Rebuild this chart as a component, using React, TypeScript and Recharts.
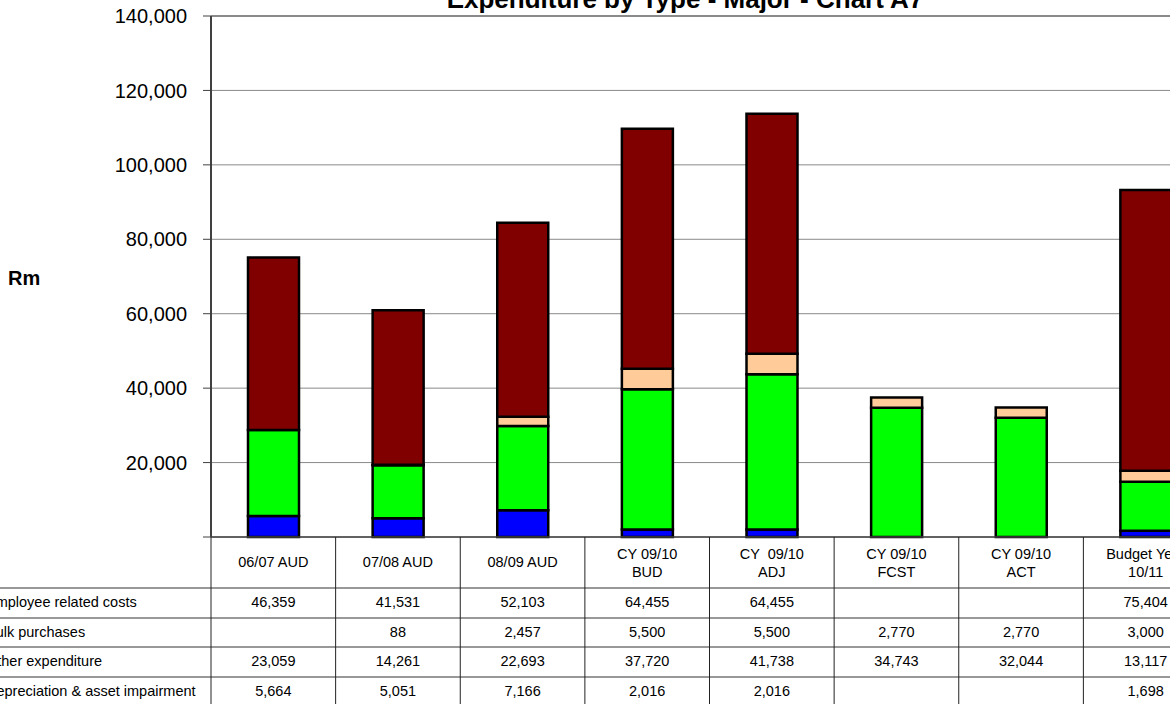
import React from "react";
import {
  BarChart,
  Bar,
  XAxis,
  YAxis,
  CartesianGrid,
  ReferenceLine,
} from "recharts";

// categories along the bottom (multi-line headers use \n)
const periods = [
  "06/07 AUD",
  "07/08 AUD",
  "08/09 AUD",
  "CY 09/10\nBUD",
  "CY  09/10\nADJ",
  "CY 09/10\nFCST",
  "CY 09/10\nACT",
  "Budget Year\n10/11",
];

// series values in R million, null = blank cell
const employeeCosts = [46359, 41531, 52103, 64455, 64455, null, null, 75404];
const bulkPurchases = [null, 88, 2457, 5500, 5500, 2770, 2770, 3000];
const otherExpenditure = [23059, 14261, 22693, 37720, 41738, 34743, 32044, 13117];
const depreciation = [5664, 5051, 7166, 2016, 2016, null, null, 1698];

const yTicks = [0, 20000, 40000, 60000, 80000, 100000, 120000, 140000];

const FONT = "Arial, 'Liberation Sans', sans-serif";

// table rows, top to bottom
const tableRows = [
  { name: "Employee related costs", values: employeeCosts },
  { name: "Bulk purchases", values: bulkPurchases },
  { name: "Other expenditure", values: otherExpenditure },
  { name: "Depreciation & asset impairment", values: depreciation },
];

const chartData = periods.map((p, i) => ({
  period: p,
  employee: employeeCosts[i] ?? 0,
  bulk: bulkPurchases[i] ?? 0,
  other: otherExpenditure[i] ?? 0,
  dep: depreciation[i] ?? 0,
}));

const CHART_W = 1270;
const CHART_H = 737;
const MARGIN = { top: 46, right: 22, left: 181, bottom: 0 };
const Y_AXIS_W = 70;
const PLOT_W = CHART_W - MARGIN.left - Y_AXIS_W - MARGIN.right;
const BAND = PLOT_W / periods.length;
const TABLE_H = 170;

const fmt = (v: number | null) => (v == null ? "" : v.toLocaleString("en-US"));

// draws one column of the data table under each category
function TableTick(props: any) {
  const { x, y, index } = props;
  const left = x - BAND / 2;
  const right = x + BAND / 2;
  const header = periods[index].split("\n");
  const rowLines = [51, 81, 110, 140, 169];

  return (
    <g fontFamily={FONT} fontSize={14.5} fill="#000">
      {index === 0 && (
        <g>
          {rowLines.map((ry) => (
            <line key={ry} x1={0} x2={CHART_W} y1={y + ry} y2={y + ry} stroke="#333" strokeWidth={1} />
          ))}
          {tableRows.map((r, ri) => (
            <text key={r.name} x={left - 225} y={y + 70 + ri * 29.5} textAnchor="start">
              {r.name}
            </text>
          ))}
        </g>
      )}
      <line x1={left} x2={left} y1={y} y2={y + TABLE_H} stroke="#222" strokeWidth={1} />
      {index === periods.length - 1 && (
        <line x1={right} x2={right} y1={y} y2={y + TABLE_H} stroke="#222" strokeWidth={1} />
      )}
      {header.map((h, hi) => (
        <text
          key={hi}
          x={x}
          y={y + (header.length === 1 ? 30 : 22 + hi * 17.5)}
          textAnchor="middle"
          style={{ whiteSpace: "pre" }}
        >
          {h}
        </text>
      ))}
      {tableRows.map((r, ri) => (
        <text key={r.name} x={x} y={y + 70 + ri * 29.5} textAnchor="middle">
          {fmt(r.values[index])}
        </text>
      ))}
    </g>
  );
}

export default function App() {
  return (
    <div
      style={{
        position: "fixed",
        left: 0,
        top: 0,
        width: 1170,
        height: 704,
        overflow: "hidden",
        background: "#fff",
      }}
    >
      <svg
        width={1170}
        height={60}
        style={{ position: "absolute", left: 0, top: 0, zIndex: 2 }}
      >
        <text x={685} y={8} textAnchor="middle" fontFamily={FONT} fontSize={26} fontWeight="bold">
          Expenditure by Type - Major - Chart A7
        </text>
      </svg>
      <div style={{ position: "absolute", left: -40, top: -30 }}>
        <BarChart width={CHART_W} height={CHART_H} data={chartData} margin={MARGIN}>
          <CartesianGrid horizontal vertical={false} stroke="#8a8a8a" />
          <ReferenceLine y={140000} stroke="#8a8a8a" strokeWidth={2} />
          <XAxis
            dataKey="period"
            height={TABLE_H}
            interval={0}
            tickLine={false}
            tickSize={0}
            tickMargin={0}
            axisLine={{ stroke: "#404040", strokeWidth: 1.5 }}
            tick={<TableTick />}
          />
          <YAxis
            width={Y_AXIS_W}
            domain={[0, 140000]}
            ticks={yTicks}
            interval={0}
            tickSize={8}
            tickMargin={16}
            tickLine={{ stroke: "#404040" }}
            axisLine={{ stroke: "#404040", strokeWidth: 2 }}
            tick={{ fontSize: 20, fill: "#000", fontFamily: FONT }}
            tickFormatter={(v: number) => (v === 0 ? "" : v.toLocaleString("en-US"))}
            label={({ viewBox }: any) => (
              <text
                x={viewBox.x - 133}
                y={viewBox.y + viewBox.height / 2 + 1}
                dy="0.35em"
                fontFamily={FONT}
                fontSize={20}
                fontWeight="bold"
                fill="#000"
              >
                Rm
              </text>
            )}
          />
          <Bar dataKey="dep" stackId="a" fill="#0000FF" stroke="#000" strokeWidth={2.5} barSize={51} isAnimationActive={false} />
          <Bar dataKey="other" stackId="a" fill="#00FF00" stroke="#000" strokeWidth={2.5} barSize={51} isAnimationActive={false} />
          <Bar dataKey="bulk" stackId="a" fill="#FFCC99" stroke="#000" strokeWidth={2.5} barSize={51} isAnimationActive={false} />
          <Bar dataKey="employee" stackId="a" fill="#800000" stroke="#000" strokeWidth={2.5} barSize={51} isAnimationActive={false} />
        </BarChart>
      </div>
    </div>
  );
}
